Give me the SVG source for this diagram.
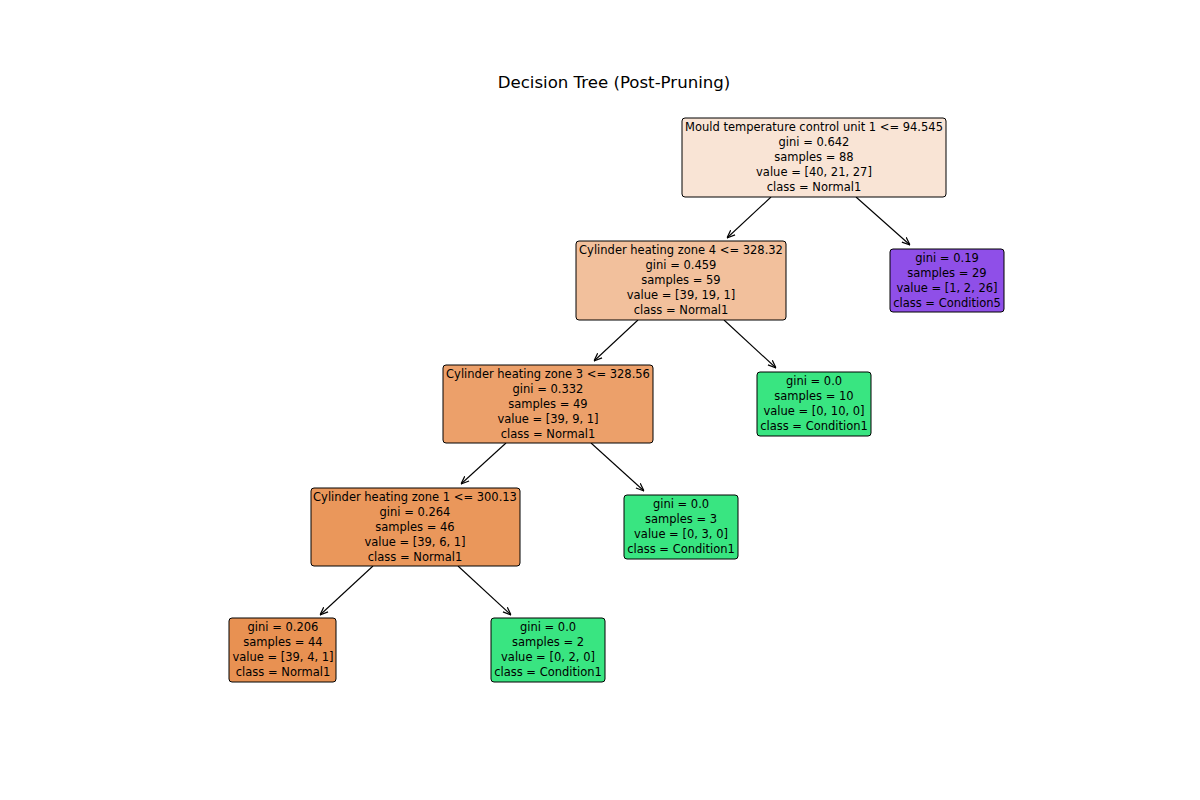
<svg xmlns="http://www.w3.org/2000/svg" width="1200" height="800" viewBox="0 0 1200 800">
<style>
.box{stroke:#000;stroke-width:1}
.t{font-family:"DejaVu Sans",sans-serif;font-size:11.5px;fill:#000;text-anchor:middle}
.title{font-family:"DejaVu Sans",sans-serif;font-size:16.6px;fill:#000;text-anchor:middle}
.edge{stroke:#000;stroke-width:1.1;fill:none;marker-end:url(#ah)}
</style>
<defs>
<marker id="ah" viewBox="0 0 10 10" refX="10" refY="5" markerWidth="8" markerHeight="8" markerUnits="userSpaceOnUse" orient="auto">
<path d="M0,1 L10,5 L0,9" fill="none" stroke="#000" stroke-width="1.5"/>
</marker>
</defs>
<rect width="1200" height="800" fill="#fff"/>
<text class="title" x="614" y="88">Decision Tree (Post-Pruning)</text>
<g id="connectors">
<line class="edge" x1="771" y1="197" x2="727" y2="238"/>
<line class="edge" x1="856" y1="197" x2="910" y2="245"/>
<line class="edge" x1="638" y1="320" x2="594" y2="361"/>
<line class="edge" x1="724" y1="320" x2="776" y2="368"/>
<line class="edge" x1="506" y1="443" x2="461" y2="484"/>
<line class="edge" x1="591" y1="443" x2="644" y2="491"/>
<line class="edge" x1="373" y1="566" x2="320" y2="615"/>
<line class="edge" x1="458" y1="566" x2="511" y2="615"/>
</g>
<g id="n0">
<rect class="box" x="682" y="118" width="264" height="79" rx="3" fill="#f9e4d5"/>
<text class="t" x="814" y="131">Mould temperature control unit 1 &lt;= 94.545</text>
<text class="t" x="814" y="146">gini = 0.642</text>
<text class="t" x="814" y="161">samples = 88</text>
<text class="t" x="814" y="176">value = [40, 21, 27]</text>
<text class="t" x="814" y="191">class = Normal1</text>
</g>
<g id="n1">
<rect class="box" x="576" y="241" width="210" height="79" rx="3" fill="#f2c09c"/>
<text class="t" x="681" y="254">Cylinder heating zone 4 &lt;= 328.32</text>
<text class="t" x="681" y="269">gini = 0.459</text>
<text class="t" x="681" y="284">samples = 59</text>
<text class="t" x="681" y="299">value = [39, 19, 1]</text>
<text class="t" x="681" y="314">class = Normal1</text>
</g>
<g id="n8">
<rect class="box" x="890" y="249" width="114" height="63" rx="3" fill="#8f4fe8"/>
<text class="t" x="947" y="262">gini = 0.19</text>
<text class="t" x="947" y="277">samples = 29</text>
<text class="t" x="947" y="292">value = [1, 2, 26]</text>
<text class="t" x="947" y="307">class = Condition5</text>
</g>
<g id="n2">
<rect class="box" x="443" y="365" width="210" height="78" rx="3" fill="#eca06a"/>
<text class="t" x="548" y="378">Cylinder heating zone 3 &lt;= 328.56</text>
<text class="t" x="548" y="393">gini = 0.332</text>
<text class="t" x="548" y="408">samples = 49</text>
<text class="t" x="548" y="423">value = [39, 9, 1]</text>
<text class="t" x="548" y="438">class = Normal1</text>
</g>
<g id="n7">
<rect class="box" x="757" y="372" width="114" height="64" rx="3" fill="#39e581"/>
<text class="t" x="814" y="385">gini = 0.0</text>
<text class="t" x="814" y="400">samples = 10</text>
<text class="t" x="814" y="415">value = [0, 10, 0]</text>
<text class="t" x="814" y="430">class = Condition1</text>
</g>
<g id="n3">
<rect class="box" x="311" y="488" width="209" height="78" rx="3" fill="#ea975b"/>
<text class="t" x="415" y="501">Cylinder heating zone 1 &lt;= 300.13</text>
<text class="t" x="415" y="516">gini = 0.264</text>
<text class="t" x="415" y="531">samples = 46</text>
<text class="t" x="415" y="546">value = [39, 6, 1]</text>
<text class="t" x="415" y="561">class = Normal1</text>
</g>
<g id="n6">
<rect class="box" x="624" y="495" width="114" height="64" rx="3" fill="#39e581"/>
<text class="t" x="681" y="508">gini = 0.0</text>
<text class="t" x="681" y="523">samples = 3</text>
<text class="t" x="681" y="538">value = [0, 3, 0]</text>
<text class="t" x="681" y="553">class = Condition1</text>
</g>
<g id="n4">
<rect class="box" x="229" y="618" width="107" height="64" rx="3" fill="#e89152"/>
<text class="t" x="283" y="631">gini = 0.206</text>
<text class="t" x="283" y="646">samples = 44</text>
<text class="t" x="283" y="661">value = [39, 4, 1]</text>
<text class="t" x="283" y="676">class = Normal1</text>
</g>
<g id="n5">
<rect class="box" x="491" y="618" width="114" height="64" rx="3" fill="#39e581"/>
<text class="t" x="548" y="631">gini = 0.0</text>
<text class="t" x="548" y="646">samples = 2</text>
<text class="t" x="548" y="661">value = [0, 2, 0]</text>
<text class="t" x="548" y="676">class = Condition1</text>
</g>
</svg>
